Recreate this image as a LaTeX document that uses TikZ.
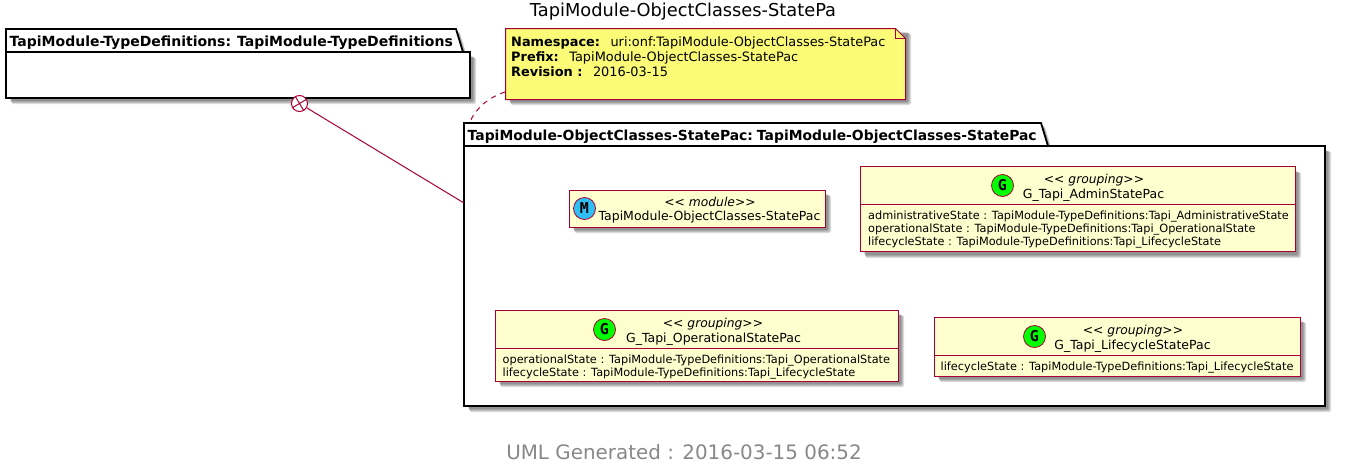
\documentclass[tikz,border=0pt]{standalone}
\usepackage{fontspec}
\setmainfont{DejaVu Sans}
\newfontfamily\spotfont{DejaVu Sans Mono}
\usetikzlibrary{calc}
\definecolor{umlred}{HTML}{A80036}
\definecolor{umlfill}{HTML}{FEFECE}
\definecolor{umlnote}{HTML}{FBFB77}
\definecolor{umlgrey}{HTML}{888888}
\definecolor{umlblue}{HTML}{2FBFF5}
\newcommand{\fs}[1]{\fontsize{#1}{#1}\selectfont}
\newcommand{\softshadow}[4]{%
  \foreach \o/\g in {6/1.5,5/1,4/0.5,3/0}{%
    \fill[black,opacity=0.13,rounded corners=1.5pt] ($(#1,#2)+(\o-\g+1,\o-\g+1)$) rectangle ($(#3,#4)+(\o,\o)$);}%
}
\newcommand{\tabshadow}[3]{%
  \foreach \o in {2,3,4}{%
    \fill[black,opacity=0.15] (#1+\o,#3-23+\o) -- (#2+\o,#3-23+\o) -- (#2+7+\o,#3+\o) -- (#1+\o,#3+\o) -- cycle;}%
}
\tikzset{
  x=1pt,y=-1pt,
  pkgline/.style={draw=black,line width=1.8pt,fill=white,line join=miter},
  pkgbody/.style={pkgline,rectangle,inner sep=0pt,outer sep=0pt,anchor=north west},
  umlbox/.style={draw=umlred,line width=1.3pt,fill=umlfill,rectangle,inner sep=0pt,outer sep=0pt,anchor=north west},
  sepline/.style={draw=umlred,line width=1pt},
  spot/.style={circle,draw=umlred,line width=0.8pt,minimum size=22pt,inner sep=0pt,font=\spotfont\bfseries\fs{15}},
  pkgtitle/.style={anchor=base west,inner sep=0pt,font=\bfseries\fs{14}},
  stereo/.style={anchor=base,inner sep=0pt,font=\itshape\fs{12.3}},
  cname/.style={anchor=base,inner sep=0pt,font=\fs{12.5}},
  attr/.style={anchor=base west,inner sep=0pt,font=\fs{11.3}},
  notetxt/.style={anchor=base west,inner sep=0pt,font=\fs{12.9}},
  rel/.style={draw=umlred,line width=1pt},
}
\begin{document}
\begin{tikzpicture}
\useasboundingbox (0,0) rectangle (1366,464);
\fill[white] (0,0) rectangle (1366,464);
\node[anchor=base,inner sep=0pt,font=\fs{17.8}] (title) at (683,16) {TapiModule-ObjectClasses-StatePa};
% package 1
\softshadow{6}{52}{470}{98}
\tabshadow{6}{456}{52}
\draw[pkgline] (6,52) -- (6,29) -- (456,29) -- (463,52) -- cycle;
\node[pkgbody,minimum width=464pt,minimum height=46pt] (pa) at (6,52) {};
\node[pkgtitle] (pat) at (9.5,46) {TapiModule-TypeDefinitions:\kern6pt TapiModule-TypeDefinitions};
% package 2
\softshadow{464}{146}{1325}{406}
\tabshadow{464}{1041}{146}
\draw[pkgline] (464,146) -- (464,123) -- (1041,123) -- (1048,146) -- cycle;
\node[pkgbody,minimum width=861pt,minimum height=260pt] (pb) at (464,146) {};
\node[pkgtitle,font=\bfseries\fs{13.9}] (pbt) at (467.5,140) {TapiModule-ObjectClasses-StatePac:\kern4pt TapiModule-ObjectClasses-StatePac};
% note
\softshadow{505}{28}{905}{99}
\draw[draw=umlred,line width=1pt,fill=umlnote] (505.5,28.5) -- (895.5,28.5) -- (905.5,38.5) -- (905.5,99.5) -- (505.5,99.5) -- cycle;
\draw[draw=umlred,line width=1pt] (895.5,28.5) -- (895.5,38.5) -- (905.5,38.5);
\coordinate (notep) at (505,92);
\node[notetxt] (n1) at (511,46) {\textbf{Namespace:}\hspace{10.5pt}uri:onf:TapiModule-ObjectClasses-StatePac};
\node[notetxt] (n2) at (511,61) {\textbf{Prefix:}\hspace{10.5pt}TapiModule-ObjectClasses-StatePac};
\node[notetxt] (n3) at (511,76) {\textbf{Revision :}\hspace{10.5pt}2016-03-15};
\coordinate (pbtop) at (469.5,123);
\draw[rel,dash pattern=on 5pt off 5pt] (notep) .. controls (490,97) and (476,107) .. (pbtop);
% containment
\node[circle,draw=umlred,line width=1pt,minimum size=16pt,inner sep=0pt,fill=white] (plus) at (299.5,103.5) {};
\draw[rel] (plus.121) -- (plus.301) (plus.211) -- (plus.31);
\coordinate (pbw) at (464,203);
\draw[rel] (plus.-31) -- (pbw);
% module
\softshadow{569}{190}{825}{227}
\node[umlbox,minimum width=256pt,minimum height=37pt] (m) at (569.5,190.5) {};
\node[spot,fill=umlblue] (ms) at (584.5,208.5) {M};
\node[stereo] (mst) at (710,206) {{<}{<} module{>}{>}};
\node[cname] (mn) at (709.5,220) {TapiModule-ObjectClasses-StatePac};
% admin
\softshadow{860}{167}{1295}{252}
\node[umlbox,minimum width=435pt,minimum height=85pt] (a) at (860.5,166.5) {};
\draw[sepline] (860.5,204.5) -- (1295.5,204.5);
\node[spot,fill=green] (as) at (1002.5,185.5) {G};
\node[stereo] (ast) at (1094,183) {{<}{<} grouping{>}{>}};
\node[cname] (an) at (1093.5,198) {G\_Tapi\_AdminStatePac};
\node[attr] (a1) at (868,219) {administrativeState : TapiModule-TypeDefinitions:Tapi\_AdministrativeState};
\node[attr] (a2) at (868,232) {operationalState : TapiModule-TypeDefinitions:Tapi\_OperationalState};
\node[attr] (a3) at (868,245) {lifecycleState : TapiModule-TypeDefinitions:Tapi\_LifecycleState};
% operational
\softshadow{495}{310}{898}{381}
\node[umlbox,minimum width=403pt,minimum height=71pt] (o) at (495.5,310.5) {};
\draw[sepline] (495.5,348.5) -- (898.5,348.5);
\node[spot,fill=green] (os) at (604.5,329.5) {G};
\node[stereo] (ost) at (713,327) {{<}{<} grouping{>}{>}};
\node[cname] (on) at (713.5,342) {G\_Tapi\_OperationalStatePac};
\node[attr] (o1) at (502.5,363) {operationalState : TapiModule-TypeDefinitions:Tapi\_OperationalState};
\node[attr] (o2) at (502.5,376) {lifecycleState : TapiModule-TypeDefinitions:Tapi\_LifecycleState};
% lifecycle
\softshadow{934}{317}{1300}{376}
\node[umlbox,minimum width=366pt,minimum height=59pt] (l) at (934.5,317.5) {};
\draw[sepline] (934.5,355.5) -- (1300.5,355.5);
\node[spot,fill=green] (ls) at (1034.5,336.5) {G};
\node[stereo] (lst) at (1133,334) {{<}{<} grouping{>}{>}};
\node[cname] (ln) at (1132.5,349) {G\_Tapi\_LifecycleStatePac};
\node[attr] (l1) at (940.5,370) {lifecycleState : TapiModule-TypeDefinitions:Tapi\_LifecycleState};
% footer
\node[anchor=base,inner sep=0pt,text=umlgrey,font=\fs{19.9}] (foot) at (684,459) {UML Generated : 2016-03-15 06:52};
\end{tikzpicture}
\end{document}
